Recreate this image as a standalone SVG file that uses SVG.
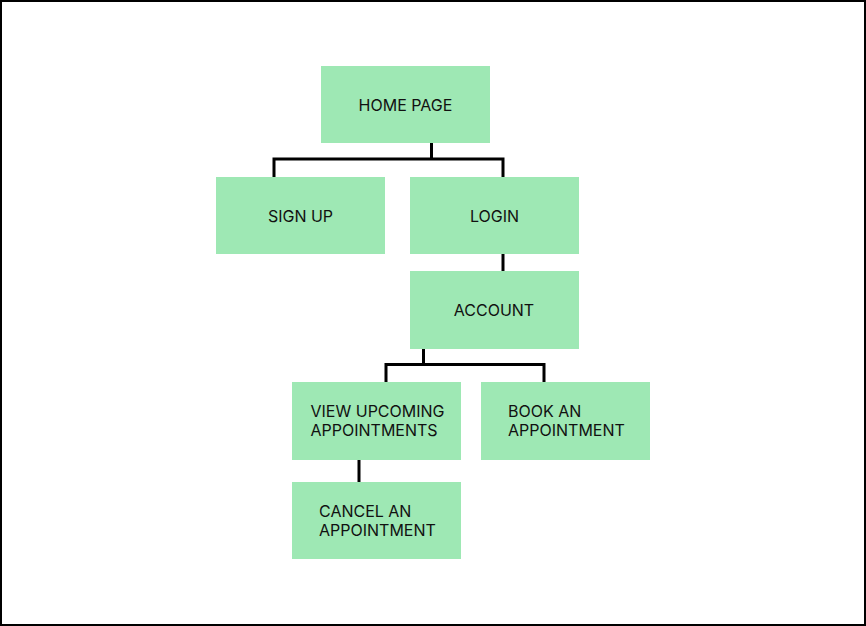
<svg xmlns="http://www.w3.org/2000/svg" width="866" height="626" viewBox="0 0 866 626">
  <style>
    .box { fill: #9ee8b4; }
    .lbl { font-family: Inter, "Liberation Sans", sans-serif; font-size: 16px; fill: #111111; }
    .mid { text-anchor: middle; }
    .wire { fill: none; stroke: #000000; stroke-width: 3; }
  </style>
  <rect x="1" y="1" width="864" height="624" fill="#ffffff" stroke="#000000" stroke-width="2"/>

  <g id="connectors">
    <path class="wire" d="M431.5 143 V159 M274 177 V159 H503 V177"/>
    <path class="wire" d="M503 254 V271"/>
    <path class="wire" d="M423.5 349 V364.5 M386 382 V364.5 H544 V382"/>
    <path class="wire" d="M359 460 V482"/>
  </g>

  <g id="home-page">
    <rect class="box" x="321" y="66" width="169" height="77"/>
    <text class="lbl mid" x="405.5" y="110.5">HOME PAGE</text>
  </g>
  <g id="sign-up">
    <rect class="box" x="216" y="177" width="169" height="77"/>
    <text class="lbl mid" x="300.5" y="221.5">SIGN UP</text>
  </g>
  <g id="login">
    <rect class="box" x="410" y="177" width="169" height="77"/>
    <text class="lbl mid" x="494.5" y="221.5">LOGIN</text>
  </g>
  <g id="account">
    <rect class="box" x="410" y="271" width="169" height="78"/>
    <text class="lbl mid" x="494" y="315.5">ACCOUNT</text>
  </g>
  <g id="view-upcoming">
    <rect class="box" x="292" y="382" width="169" height="78"/>
    <text class="lbl" x="310.5" y="416.5">VIEW UPCOMING</text>
    <text class="lbl" x="310.5" y="435.5">APPOINTMENTS</text>
  </g>
  <g id="book-appointment">
    <rect class="box" x="481" y="382" width="169" height="78"/>
    <text class="lbl" x="508" y="416.5">BOOK AN</text>
    <text class="lbl" x="508" y="435.5">APPOINTMENT</text>
  </g>
  <g id="cancel-appointment">
    <rect class="box" x="292" y="482" width="169" height="77"/>
    <text class="lbl" x="319" y="516.5">CANCEL AN</text>
    <text class="lbl" x="319" y="535.5">APPOINTMENT</text>
  </g>
</svg>
